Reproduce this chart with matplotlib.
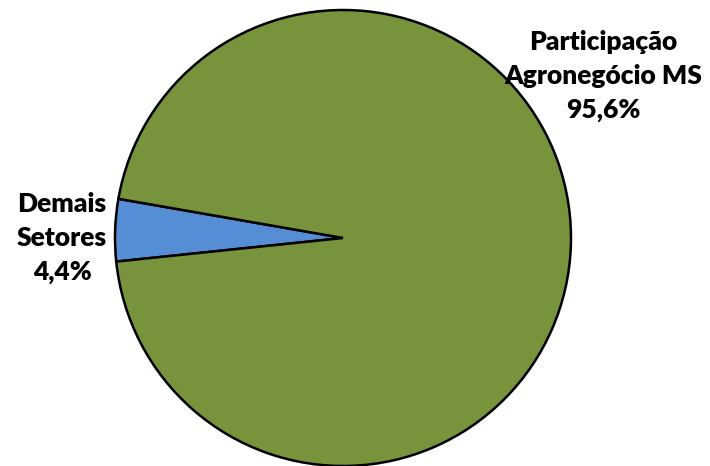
import matplotlib
matplotlib.use("Agg")
import matplotlib.pyplot as plt

# Dados do gráfico
setores = ["Demais\nSetores", "Participação\nAgronegócio MS"]
participacao = [4.4, 95.6]
cores = ["#558ED5", "#77933C"]

W, H = 710, 466
fig = plt.figure(figsize=(W / 100, H / 100), dpi=100)

# centro da pizza em (343, 238) px, raio 228 px
cx, cy, r = 343, 238, 228
ax = fig.add_axes([(cx - r) / W, (H - cy - r) / H, 2 * r / W, 2 * r / H])

wedges, _ = ax.pie(participacao, colors=cores, startangle=170.1, counterclock=True,
                   radius=1.0, wedgeprops=dict(edgecolor="black", linewidth=1.8))
for w in wedges:
    w.set_clip_on(False)
ax.set_xlim(-1, 1)
ax.set_ylim(-1, 1)
ax.set_aspect("equal")
ax.axis("off")

def rotulo(nome, valor):
    return nome + "\n" + ("%.1f%%" % valor).replace(".", ",")

fonte = dict(family=["Lato", "DejaVu Sans"], fontsize=19, fontweight="heavy",
             ha="center", va="center", linespacing=1.5, color="black")
ax.text(-1.232, 0.0, rotulo(setores[0], participacao[0]), **fonte)
ax.text(1.14, 0.71, rotulo(setores[1], participacao[1]), **fonte)

fig.savefig("out.png", dpi=100)
